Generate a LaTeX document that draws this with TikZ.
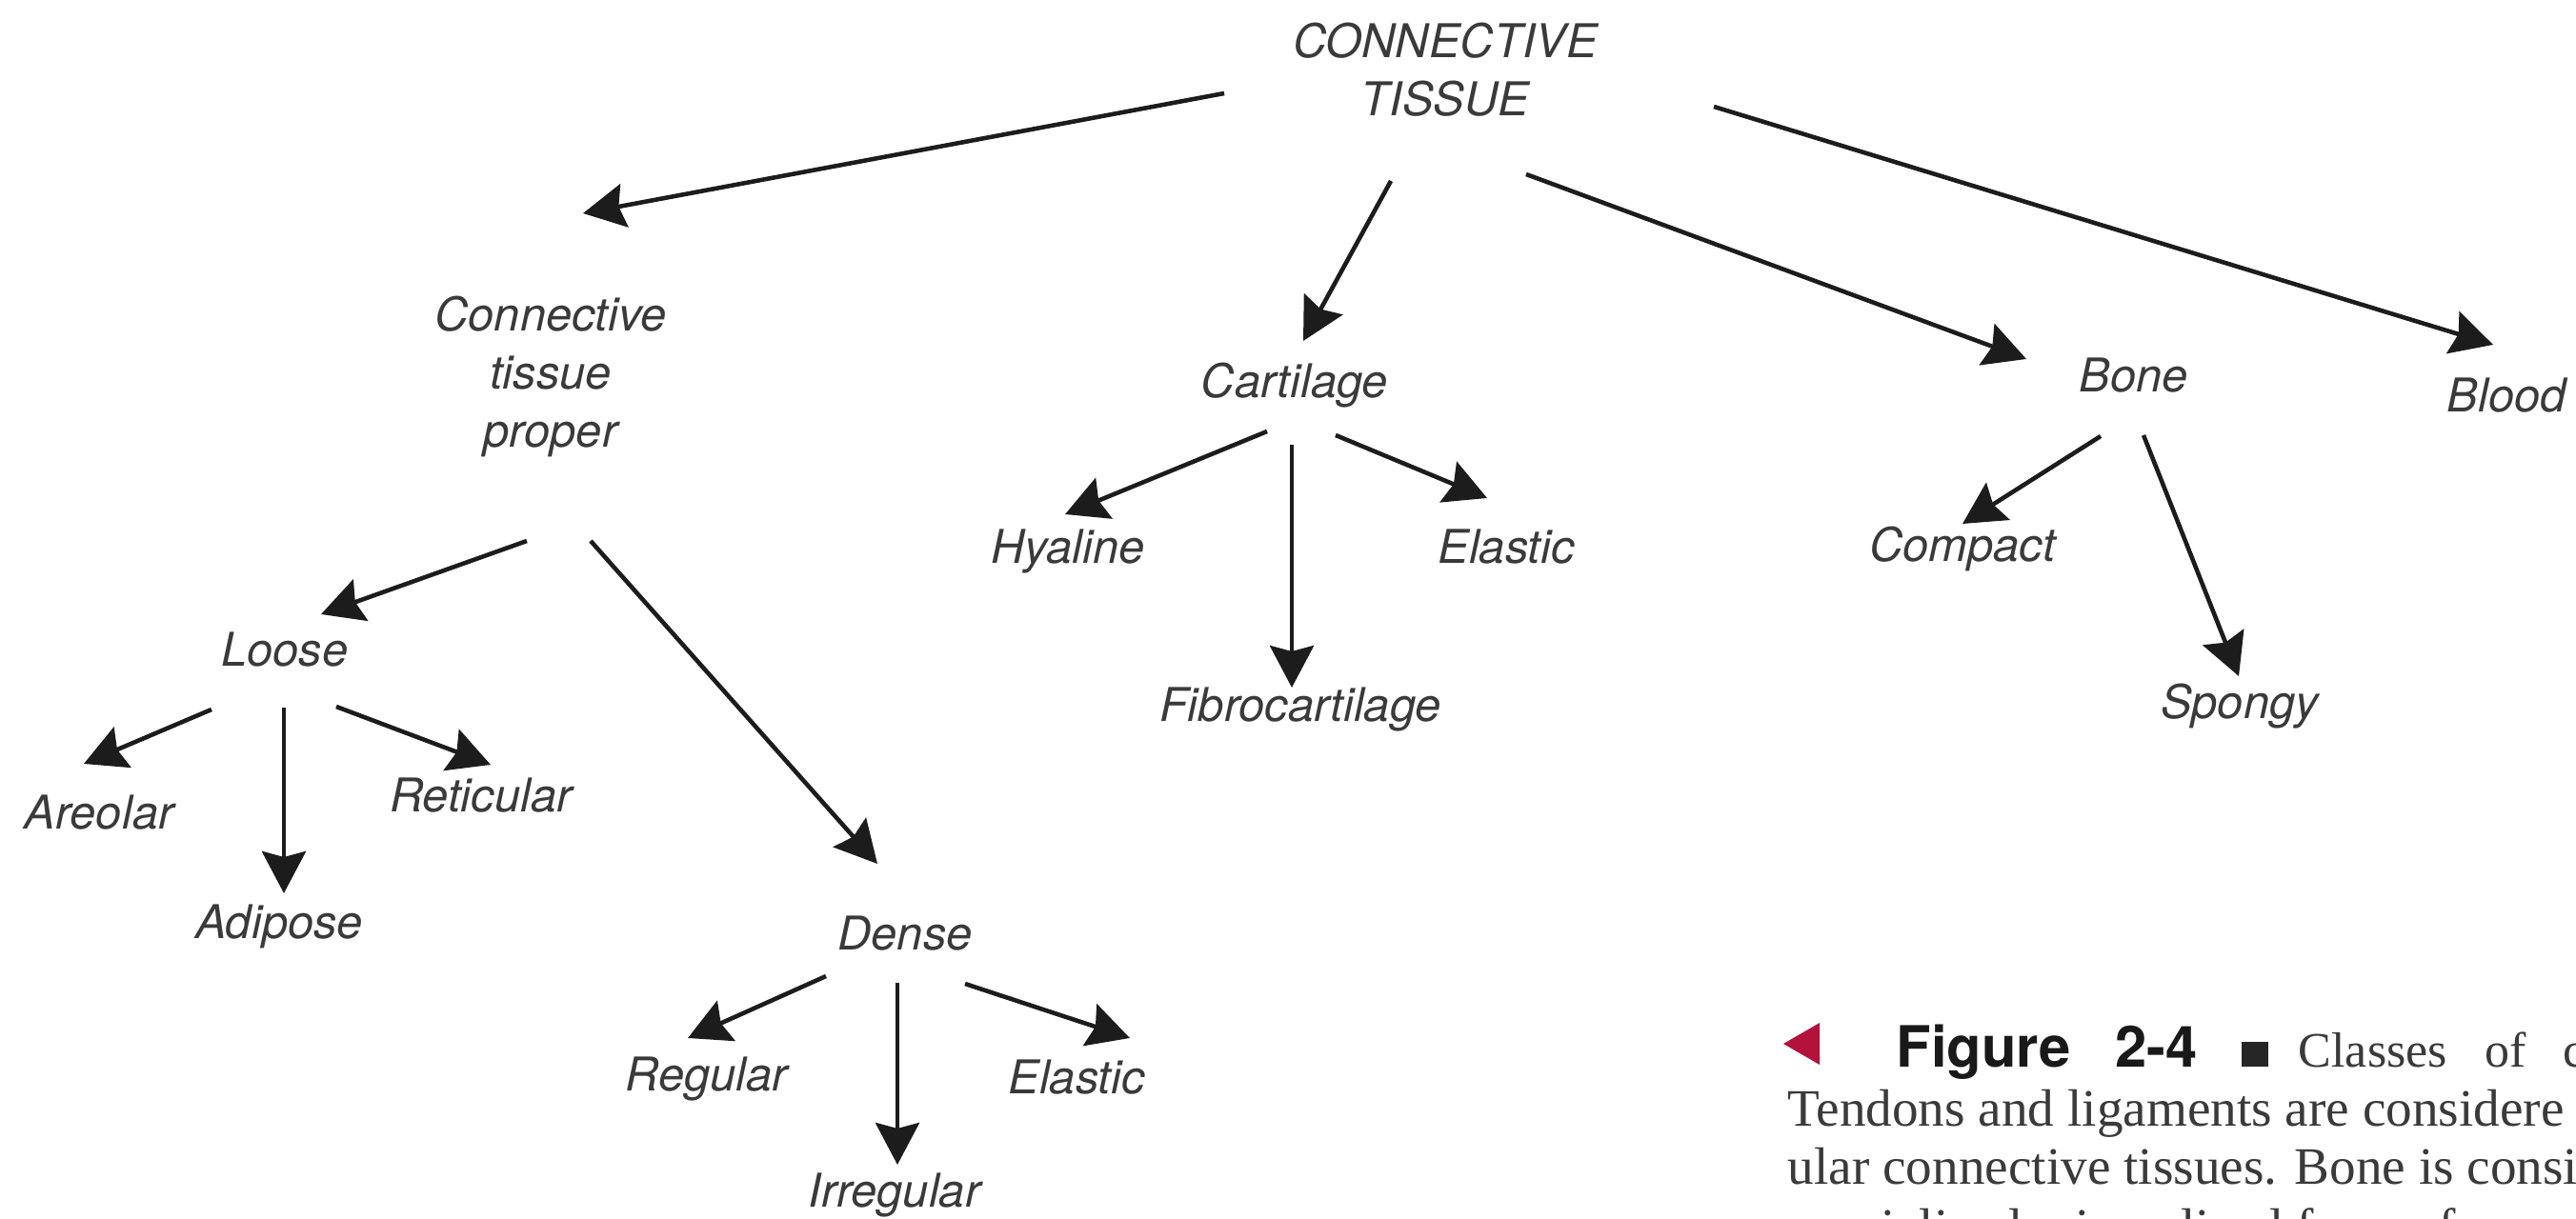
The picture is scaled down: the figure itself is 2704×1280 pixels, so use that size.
\documentclass[tikz,border=0pt]{standalone}
\usepackage{fontspec}
\setmainfont{TeX Gyre Heros}
\newfontfamily\capserif{Liberation Serif}
\usetikzlibrary{arrows.meta}
\definecolor{lbl}{HTML}{3A3A3A}
\definecolor{ln}{HTML}{1C1C1C}
\definecolor{markred}{HTML}{B3123C}
\begin{document}
\begin{tikzpicture}[x=0.01cm,y=-0.01cm,
  lab/.style={font=\fontsize{13.9}{17.4}\selectfont\itshape, text=lbl, inner sep=0pt, anchor=base, align=center},
  arr/.style={draw=ln, line width=1.3pt, -{Stealth[length=0.44cm,width=0.46cm,inset=0.06cm]}},
  captxt/.style={font=\fontsize{15.7}{18}\selectfont\capserif, text=lbl, inner sep=0pt, anchor=base west},
  capone/.style={font=\fontsize{14.8}{18}\selectfont\capserif, text=lbl, inner sep=0pt, anchor=base west},
  capbold/.style={font=\fontsize{17}{19}\selectfont\bfseries, text=black!90, inner sep=0pt, anchor=base west}]
\useasboundingbox (0,0) rectangle (2704,1280);
\clip (0,0) rectangle (2704,1280);
\fill[white] (0,0) rectangle (2704,1280);

% nodes (base anchor = baseline of the last line)
\node[lab] (ct) at (1517,122) {CONNECTIVE\\TISSUE};
\node[lab] (ctp) at (578,470) {Connective\\tissue\\proper};
\node[lab] (loose) at (299,700) {Loose};
\node[lab] (areolar) at (104,870) {Areolar};
\node[lab] (adipose) at (293,985) {Adipose};
\node[lab] (reticular) at (505,853) {Reticular};
\node[lab] (dense) at (950,997) {Dense};
\node[lab] (regular) at (742,1145) {Regular};
\node[lab] (irregular) at (939,1267) {Irregular};
\node[lab] (elasticd) at (1130,1148) {Elastic};
\node[lab] (cartilage) at (1359,418) {Cartilage};
\node[lab] (hyaline) at (1121,592) {Hyaline};
\node[lab] (elasticc) at (1581,592) {Elastic};
\node[lab] (fibro) at (1365,758) {Fibrocartilage};
\node[lab] (bone) at (2240,412) {Bone};
\node[lab] (compact) at (2060,590) {Compact};
\node[lab] (spongy) at (2351,755) {Spongy};
\node[lab] (blood) at (2631,433) {Blood};

% connectors
\draw[arr] ([shift={(-232,-24)}]ct.base) -- ([shift={(34,-246)}]ctp.base);
\draw[arr] ([shift={(-57,68)}]ct.base) -- ([shift={(9,-60)}]cartilage.base);
\draw[arr] ([shift={(85,61)}]ct.base) -- ([shift={(-113,-35)}]bone.base);
\draw[arr] ([shift={(282,-10)}]ct.base) -- ([shift={(-14,-71)}]blood.base);
\draw[arr] ([shift={(-25,98)}]ctp.base) -- ([shift={(38,-55)}]loose.base);
\draw[arr] ([shift={(42,98)}]ctp.base) -- ([shift={(-29,-90)}]dense.base);
\draw[arr] ([shift={(-77,45)}]loose.base) -- ([shift={(-16,-68)}]areolar.base);
\draw[arr] ([shift={(-1,43)}]loose.base) -- ([shift={(5,-47)}]adipose.base);
\draw[arr] ([shift={(54,42)}]loose.base) -- ([shift={(10,-50)}]reticular.base);
\draw[arr] ([shift={(-83,28)}]dense.base) -- ([shift={(-20,-55)}]regular.base);
\draw[arr] ([shift={(-8,35)}]dense.base) -- ([shift={(3,-44)}]irregular.base);
\draw[arr] ([shift={(63,36)}]dense.base) -- ([shift={(56,-58)}]elasticd.base);
\draw[arr] ([shift={(-29,35)}]cartilage.base) -- ([shift={(-3,-52)}]hyaline.base);
\draw[arr] ([shift={(-3,49)}]cartilage.base) -- ([shift={(-9,-36)}]fibro.base);
\draw[arr] ([shift={(43,39)}]cartilage.base) -- ([shift={(-20,-69)}]elasticc.base);
\draw[arr] ([shift={(-35,46)}]bone.base) -- ([shift={(0,-40)}]compact.base);
\draw[arr] ([shift={(10,45)}]bone.base) -- ([shift={(-1,-45)}]spongy.base);

% caption
\fill[markred] (1872,1096) -- (1910,1074) -- (1910,1118) -- cycle;
\node[capbold] (fig) at (1990,1120) {Figure\hspace{0.47cm}2-4};
\fill[black!85] (2353,1094) rectangle (2381,1120);
\node[capone] (cls) at (2412,1120) {Classes\hspace{0.40cm}of\hspace{0.38cm}c};
\node[captxt] (cap2) at (1876,1182) {Tendons and ligaments are considere};
\node[captxt] (cap3) at (1876,1243) {ular connective tissues. Bone is consid};
\node[captxt] (cap4) at (1876,1307) {specialized mineralized form of con};
\end{tikzpicture}
\end{document}
